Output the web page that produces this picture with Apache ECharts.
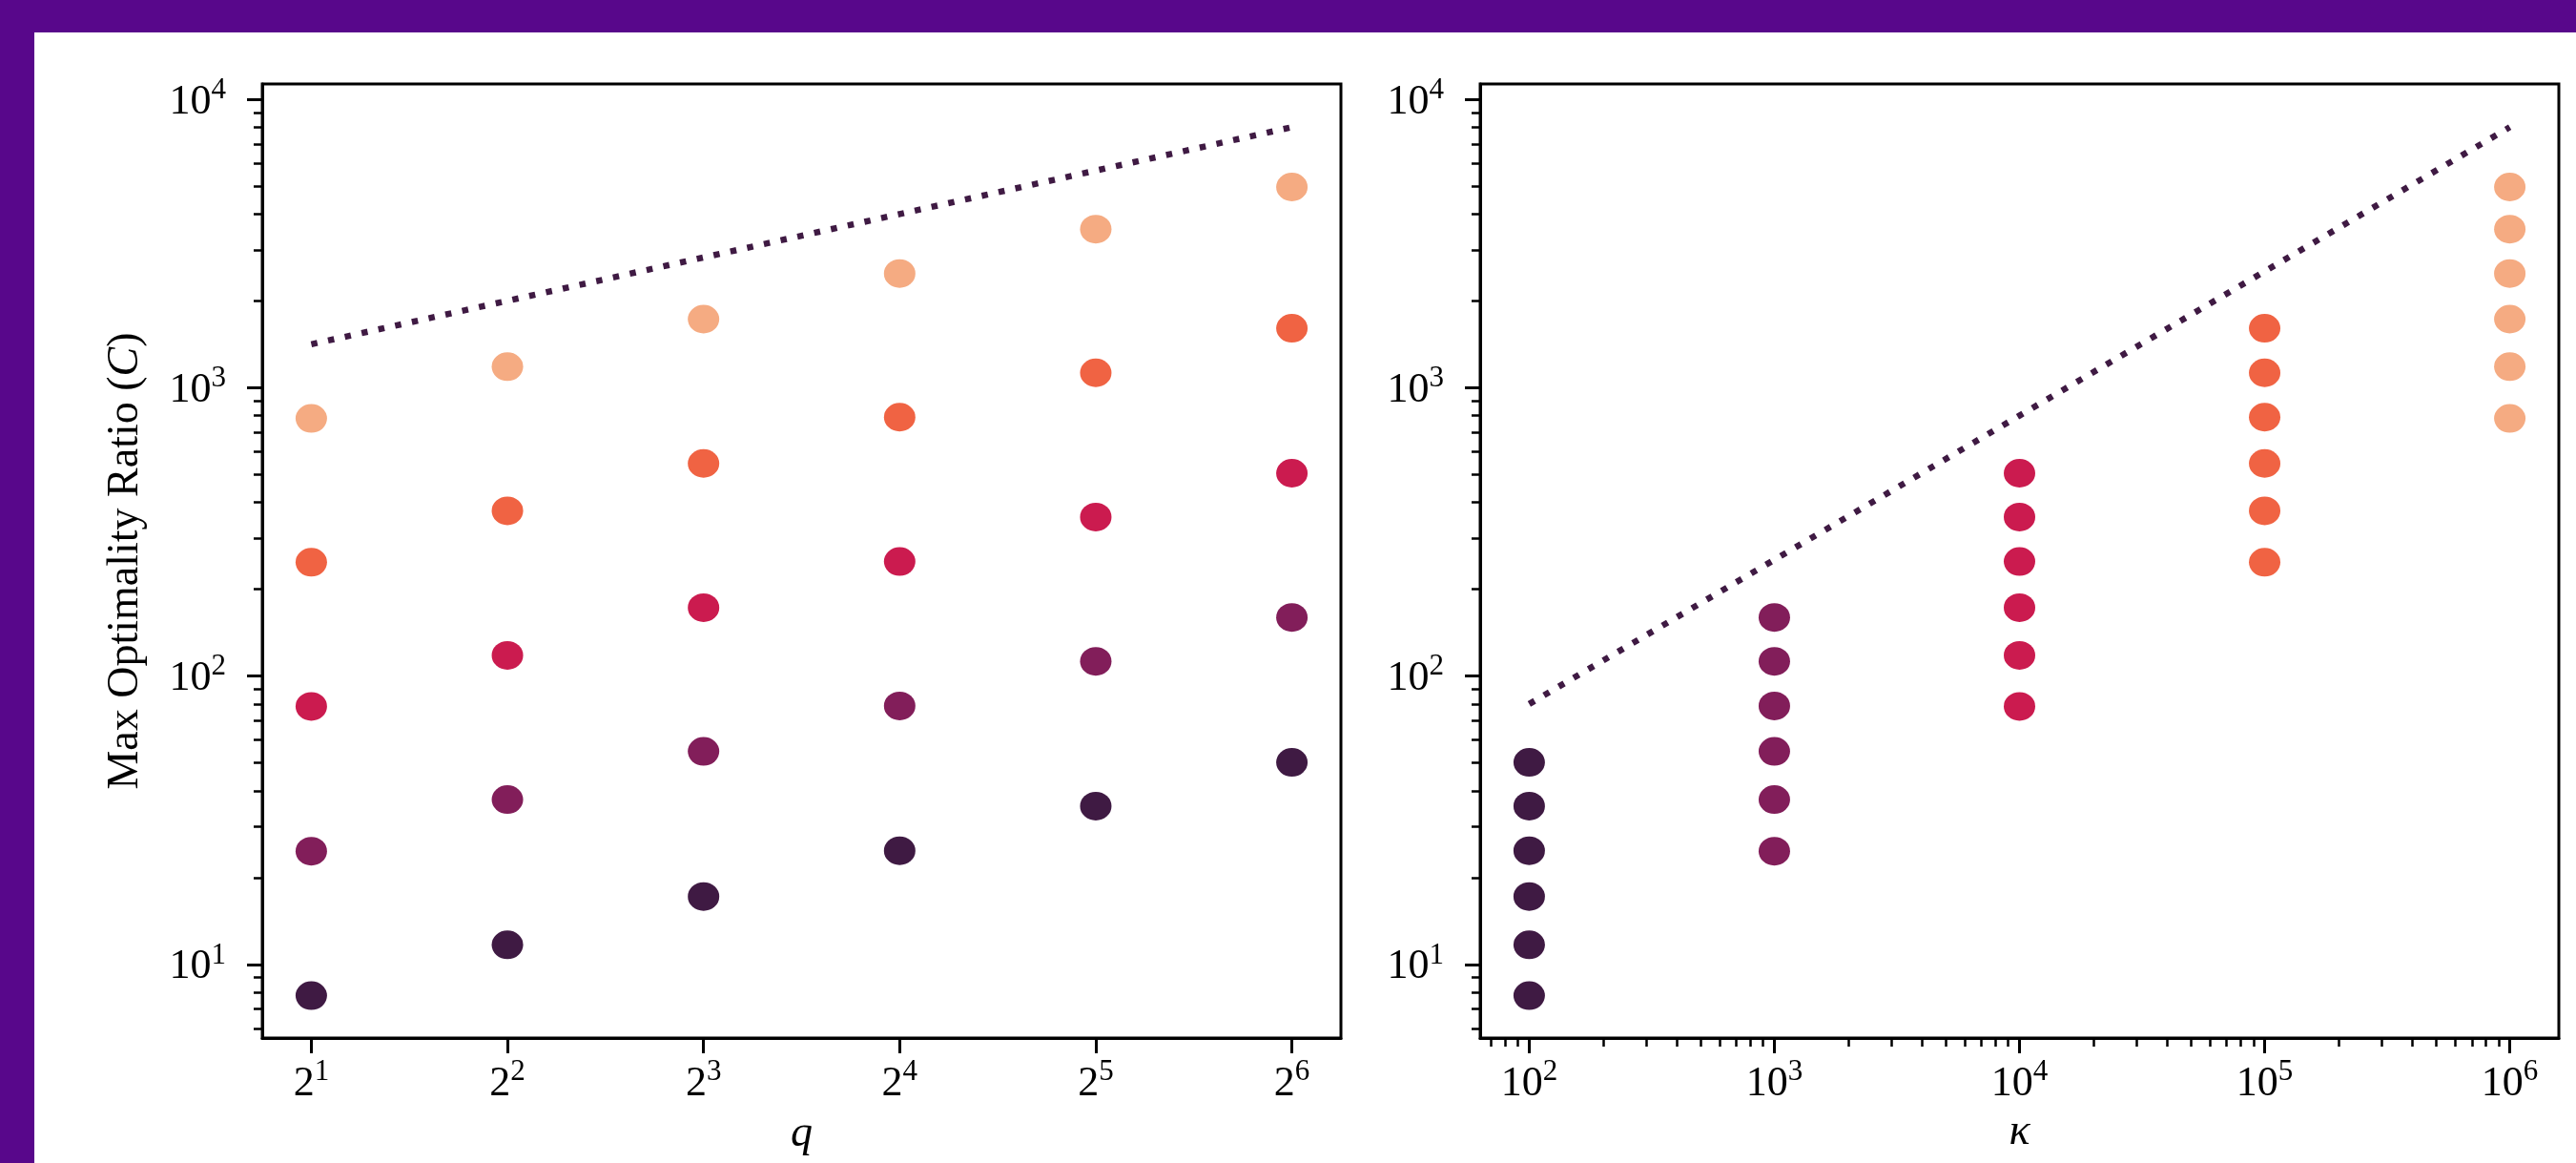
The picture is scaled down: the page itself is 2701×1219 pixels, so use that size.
<!DOCTYPE html>
<html>
<head>
<meta charset="utf-8">
<script src="https://cdn.jsdelivr.net/npm/echarts@6/dist/echarts.min.js"></script>
<style>
  html, body { margin: 0; padding: 0; width: 2701px; height: 1219px; overflow: hidden; background: #58078b; }
  #sheet { position: absolute; left: 36px; top: 34px; right: 0; bottom: 0; background: #ffffff; }
  #chart { position: absolute; left: 0; top: 0; width: 2701px; height: 1219px; }
</style>
</head>
<body>
<div id="sheet"></div>
<div id="chart"></div>
<script>
// Problem sizes
const qValues = [2, 4, 8, 16, 32, 64];
const kappaValues = [1e2, 1e3, 1e4, 1e5, 1e6];

// Max optimality ratio C, one row per condition number kappa, indexed by q
const ratioKappa1e2 = [7.8, 11.7, 17.2, 24.8, 35.4, 50.2];
const ratioKappa1e3 = [24.7, 37.3, 54.8, 78.8, 112.5, 159.7];
const ratioKappa1e4 = [78.5, 118, 172.6, 249.6, 356, 505];
const ratioKappa1e5 = [248, 374, 546, 790, 1126, 1606];
const ratioKappa1e6 = [782, 1182, 1728, 2487, 3546, 4963];

// Theoretical upper bounds (dotted lines)
const boundByQ = [1414, 2000, 2828, 4000, 5657, 8000];
const boundByKappa = [80, 253, 800, 2530, 8000];

// Tick labels
const yTicks = [10, 100, 1000, 10000];
const qTicks = [2, 4, 8, 16, 32, 64];
const kappaTicks = [1e2, 1e3, 1e4, 1e5, 1e6];

const ratioRows = [ratioKappa1e2, ratioKappa1e3, ratioKappa1e4, ratioKappa1e5, ratioKappa1e6];
const kappaColors = ['#3f1a43', '#821e5a', '#cb1b4f', '#f06343', '#f5ab82'];
const boundColor = '#3f1a43';

const FONT = 'Liberation Serif';
const TICK_FS = 44;
const SUP_FS = 31;
const NAME_FS = 46;

// axis ranges: 5% padding in log space around the data
const yMin = Math.pow(10, 0.745), yMax = Math.pow(10, 4.053);
const qMin = Math.pow(2, 0.75), qMax = Math.pow(2, 6.25);
const kMin = Math.pow(10, 1.8), kMax = Math.pow(10, 6.2);

function minorDecadeTicks(lo, hi) {
  const out = [];
  for (let e = Math.floor(Math.log10(lo)); e <= Math.ceil(Math.log10(hi)); e++) {
    for (let m = 2; m <= 9; m++) {
      const v = m * Math.pow(10, e);
      if (v >= lo && v <= hi) out.push(v);
    }
  }
  return out;
}

const rich = {
  b: { fontFamily: FONT, fontSize: TICK_FS, lineHeight: 50, verticalAlign: 'bottom', color: '#000' },
  s: { fontFamily: FONT, fontSize: SUP_FS, lineHeight: 24, verticalAlign: 'top', color: '#000' }
};
const nameStyle = {
  fontFamily: FONT, fontSize: NAME_FS, color: '#000',
  rich: { i: { fontFamily: FONT, fontSize: NAME_FS, fontStyle: 'italic', color: '#000' } }
};

function powLabel(base) {
  return v => '{b|' + base + '}{s|' + Math.round(Math.log(v) / Math.log(base)) + '}';
}

function majorAxis(opts) {
  return Object.assign({
    type: 'log',
    axisLine: { show: true, onZero: false, lineStyle: { color: '#000', width: 3 } },
    axisTick: { show: true, length: 16, lineStyle: { color: '#000', width: 3 }, customValues: opts.ticks },
    axisLabel: { customValues: opts.ticks, formatter: opts.fmt, rich: rich, margin: opts.margin },
    splitLine: { show: false },
    minorTick: { show: false },
    nameTextStyle: nameStyle
  }, opts.extra);
}

function minorAxis(opts) {
  return Object.assign({
    type: 'log',
    axisLine: { show: false },
    axisTick: { show: true, length: 9, lineStyle: { color: '#000', width: 2.5 }, customValues: opts.ticks },
    axisLabel: { show: false },
    splitLine: { show: false },
    minorTick: { show: false }
  }, opts.extra);
}

const grids = [
  { left: 275, top: 88, width: 1131, height: 1000, show: true, borderColor: '#000', borderWidth: 3 },
  { left: 1552, top: 88, width: 1131, height: 1000, show: true, borderColor: '#000', borderWidth: 3 }
];

const xAxes = [
  majorAxis({ ticks: qTicks, fmt: powLabel(2), margin: 20,
    extra: { gridIndex: 0, logBase: 2, min: qMin, max: qMax, position: 'bottom',
      name: '{i|q}', nameLocation: 'middle', nameGap: 78 } }),
  majorAxis({ ticks: kappaTicks, fmt: powLabel(10), margin: 20,
    extra: { gridIndex: 1, logBase: 10, min: kMin, max: kMax, position: 'bottom',
      name: '{i|κ}', nameLocation: 'middle', nameGap: 76 } }),
  minorAxis({ ticks: minorDecadeTicks(kMin, kMax),
    extra: { gridIndex: 1, logBase: 10, min: kMin, max: kMax, position: 'bottom', offset: 0 } })
];

const yAxes = [
  majorAxis({ ticks: yTicks, fmt: powLabel(10), margin: 38,
    extra: { gridIndex: 0, logBase: 10, min: yMin, max: yMax, position: 'left',
      name: 'Max Optimality Ratio ({i|C})', nameLocation: 'middle', nameGap: 120 } }),
  minorAxis({ ticks: minorDecadeTicks(yMin, yMax),
    extra: { gridIndex: 0, logBase: 10, min: yMin, max: yMax, position: 'left', offset: 0 } }),
  majorAxis({ ticks: yTicks, fmt: powLabel(10), margin: 38,
    extra: { gridIndex: 1, logBase: 10, min: yMin, max: yMax, position: 'left' } }),
  minorAxis({ ticks: minorDecadeTicks(yMin, yMax),
    extra: { gridIndex: 1, logBase: 10, min: yMin, max: yMax, position: 'left', offset: 0 } })
];

const series = [];
const dotLine = { color: boundColor, width: 6.5, type: [6.5, 11.5], cap: 'butt' };

// left panel: ratio against q, one colour per kappa
series.push({
  type: 'line', xAxisIndex: 0, yAxisIndex: 0, silent: true, symbol: 'none',
  data: qValues.map((q, j) => [q, boundByQ[j]]), lineStyle: dotLine
});
ratioRows.forEach((row, i) => {
  series.push({
    type: 'scatter', xAxisIndex: 0, yAxisIndex: 0, symbol: 'circle', symbolSize: [33, 30],
    itemStyle: { color: kappaColors[i], opacity: 1 },
    data: qValues.map((q, j) => [q, row[j]])
  });
});

// right panel: ratio against kappa
series.push({
  type: 'line', xAxisIndex: 1, yAxisIndex: 2, silent: true, symbol: 'none',
  data: kappaValues.map((k, i) => [k, boundByKappa[i]]), lineStyle: dotLine
});
ratioRows.forEach((row, i) => {
  series.push({
    type: 'scatter', xAxisIndex: 1, yAxisIndex: 2, symbol: 'circle', symbolSize: [33, 30],
    itemStyle: { color: kappaColors[i], opacity: 1 },
    data: qValues.map((q, j) => [kappaValues[i], row[j]])
  });
});

const chart = echarts.init(document.getElementById('chart'), null, { renderer: 'canvas' });
chart.setOption({
  animation: false,
  backgroundColor: 'transparent',
  grid: grids,
  xAxis: xAxes,
  yAxis: yAxes,
  series: series
});
</script>
</body>
</html>
